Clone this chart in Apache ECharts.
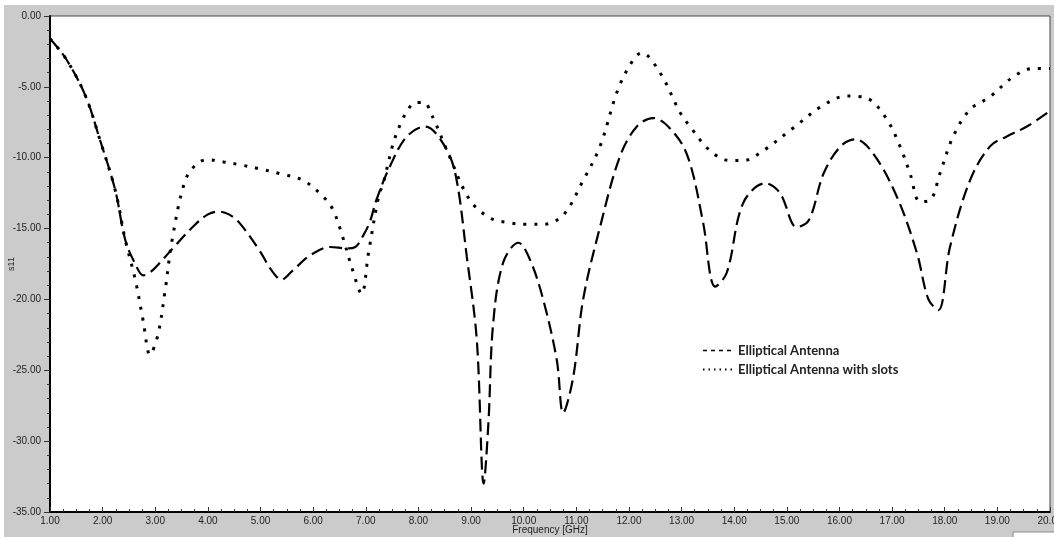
<!DOCTYPE html>
<html>
<head>
<meta charset="utf-8">
<script src="https://cdn.jsdelivr.net/npm/echarts@6/dist/echarts.min.js"></script>
<style>html,body{margin:0;padding:0;background:#fff}#c{width:1054px;height:537px}</style>
</head>
<body>
<div id="c"></div>
<script>
// Elliptical Antenna (dashed)
const freqA = [1.0, 1.3, 1.67, 1.95, 2.24, 2.43, 2.62, 2.77, 2.9, 3.09, 3.38, 3.75, 4.0, 4.2, 4.4, 4.6, 4.99, 5.2, 5.4, 5.6, 5.94, 6.32, 6.64, 6.8, 6.95, 7.08, 7.2, 7.46, 7.78, 8.13, 8.47, 8.7, 8.92, 9.11, 9.24, 9.33, 9.42, 9.61, 9.9, 10.12, 10.37, 10.63, 10.75, 10.94, 11.13, 11.45, 11.83, 12.15, 12.46, 12.91, 13.16, 13.41, 13.64, 13.86, 14.17, 14.59, 14.87, 15.19, 15.42, 15.7, 16.02, 16.3, 16.64, 17.09, 17.47, 17.69, 17.88, 18.1, 18.48, 18.86, 19.18, 19.56, 20.0];
const s11A  = [-1.6, -3.0, -5.6, -8.75, -12.3, -15.8, -17.5, -18.3, -18.1, -17.4, -16.2, -14.75, -14.0, -13.8, -14.0, -14.6, -16.6, -17.9, -18.6, -18.0, -16.9, -16.3, -16.4, -16.3, -15.5, -14.5, -13.0, -10.6, -8.5, -7.8, -9.0, -11.1, -17.0, -22.9, -33.0, -28.7, -21.7, -17.4, -16.0, -17.2, -20.0, -24.3, -28.0, -25.5, -20.0, -14.9, -9.9, -7.8, -7.2, -8.5, -10.4, -14.6, -19.1, -18.1, -13.2, -11.8, -12.5, -14.9, -14.4, -11.1, -9.2, -8.7, -9.7, -12.75, -16.7, -20.0, -20.75, -16.3, -11.6, -9.2, -8.5, -7.8, -6.7];

// Elliptical Antenna with slots (dotted)
const freqB = [1.0, 1.3, 1.67, 1.95, 2.24, 2.43, 2.62, 2.77, 2.9, 3.05, 3.19, 3.32, 3.57, 3.8, 4.01, 4.3, 4.61, 5.0, 5.4, 5.81, 6.19, 6.38, 6.57, 6.73, 6.92, 7.05, 7.24, 7.33, 7.61, 7.97, 8.1, 8.28, 8.6, 8.98, 9.36, 9.74, 10.05, 10.37, 10.75, 11.13, 11.45, 11.79, 12.08, 12.24, 12.59, 12.97, 13.16, 13.54, 13.92, 14.17, 14.55, 15.12, 15.69, 16.14, 16.52, 16.9, 17.15, 17.34, 17.53, 17.72, 17.91, 18.16, 18.48, 18.86, 19.3, 19.68, 20.0];
const s11B  = [-1.6, -3.0, -5.6, -8.75, -12.3, -15.8, -18.6, -21.5, -23.9, -22.5, -19.3, -15.8, -11.6, -10.4, -10.15, -10.3, -10.5, -10.8, -11.15, -11.6, -12.75, -13.7, -15.7, -17.7, -19.6, -16.75, -12.8, -11.8, -8.05, -6.1, -6.1, -7.2, -10.0, -13.0, -14.25, -14.6, -14.7, -14.7, -14.05, -11.6, -9.2, -5.2, -3.1, -2.6, -4.0, -6.8, -7.8, -9.5, -10.2, -10.2, -9.5, -7.9, -6.3, -5.65, -5.8, -7.3, -9.2, -11.1, -13.1, -13.0, -11.1, -8.5, -6.6, -5.7, -4.3, -3.7, -3.7];

const xTicks = {min: 1, max: 20, step: 1};
const yTicks = {min: -35, max: 0, step: 5};
const seriesNames = ['Elliptical Antenna', 'Elliptical Antenna with slots'];

const zip = (xs, ys) => xs.map((x, i) => [x, ys[i]]);
const chart = echarts.init(document.getElementById('c'), null, {renderer: 'canvas'});
const labelFont = {fontFamily: 'Liberation Sans', fontSize: 10, color: '#222'};

chart.setOption({
  backgroundColor: '#fff',
  animation: false,
  color: ['#000', '#000'],
  graphic: [
    {type: 'rect', z: -10, shape: {x: 4, y: 5, width: 1050, height: 532}, style: {fill: '#cbcbcb'}},
    {type: 'rect', z: 10, shape: {x: 1013, y: 532, width: 45, height: 10}, style: {fill: '#fff', stroke: '#888', lineWidth: 1}}
  ],
  grid: {left: 50, top: 16, right: 4, bottom: 25, containLabel: false, outerBoundsMode: 'none',
         show: true, backgroundColor: '#fff', borderColor: '#444', borderWidth: 1},
  legend: {
    orient: 'vertical', left: 697, top: 339, itemGap: 6, itemWidth: 30, itemHeight: 10,
    itemStyle: {opacity: 0},
    textStyle: {fontFamily: 'Lato', fontWeight: 'bold', fontSize: 13, color: '#222'},
    data: [
      {name: seriesNames[0], itemStyle: {opacity: 0}, lineStyle: {type: [4, 4], width: 1.5, color: '#000'}},
      {name: seriesNames[1], itemStyle: {opacity: 0}, lineStyle: {type: [1.5, 4], width: 2, color: '#000'}}
    ]
  },
  xAxis: {
    type: 'value', min: xTicks.min, max: xTicks.max, interval: xTicks.step,
    name: 'Frequency [GHz]', nameLocation: 'middle', nameGap: 18, nameMoveOverlap: false,
    nameTextStyle: {fontFamily: 'Liberation Sans', fontSize: 10, color: '#222', verticalAlign: 'middle'},
    axisLine: {onZero: false, lineStyle: {color: '#000', width: 2}},
    axisTick: {inside: true, length: 5, lineStyle: {color: '#333'}},
    minorTick: {show: true, splitNumber: 4, length: 3, lineStyle: {color: '#333'}},
    axisLabel: Object.assign({margin: 4, formatter: v => v.toFixed(2)}, labelFont),
    splitLine: {show: false}
  },
  yAxis: {
    type: 'value', min: yTicks.min, max: yTicks.max, interval: yTicks.step,
    name: 's11', nameLocation: 'middle', nameGap: 34, nameRotate: 90, nameMoveOverlap: false,
    nameTextStyle: {fontFamily: 'Liberation Sans', fontSize: 9, color: '#222'},
    axisLine: {onZero: false, lineStyle: {color: '#000', width: 2}},
    axisTick: {inside: false, length: 6, lineStyle: {color: '#333'}},
    minorTick: {show: true, splitNumber: 5, length: 3, lineStyle: {color: '#333'}},
    axisLabel: Object.assign({margin: 9, formatter: v => v.toFixed(2)}, labelFont),
    splitLine: {show: false}
  },
  series: [
    {
      name: seriesNames[0], type: 'line', smooth: 0.35, symbol: 'none',
      data: zip(freqA, s11A),
      itemStyle: {color: '#000'},
      lineStyle: {color: '#000', width: 2.2, type: [13, 6]}
    },
    {
      name: seriesNames[1], type: 'line', smooth: 0.35, symbol: 'none',
      data: zip(freqB, s11B),
      itemStyle: {color: '#000'},
      lineStyle: {color: '#000', width: 3, type: [3, 8]}
    }
  ]
});
</script>
</body>
</html>
